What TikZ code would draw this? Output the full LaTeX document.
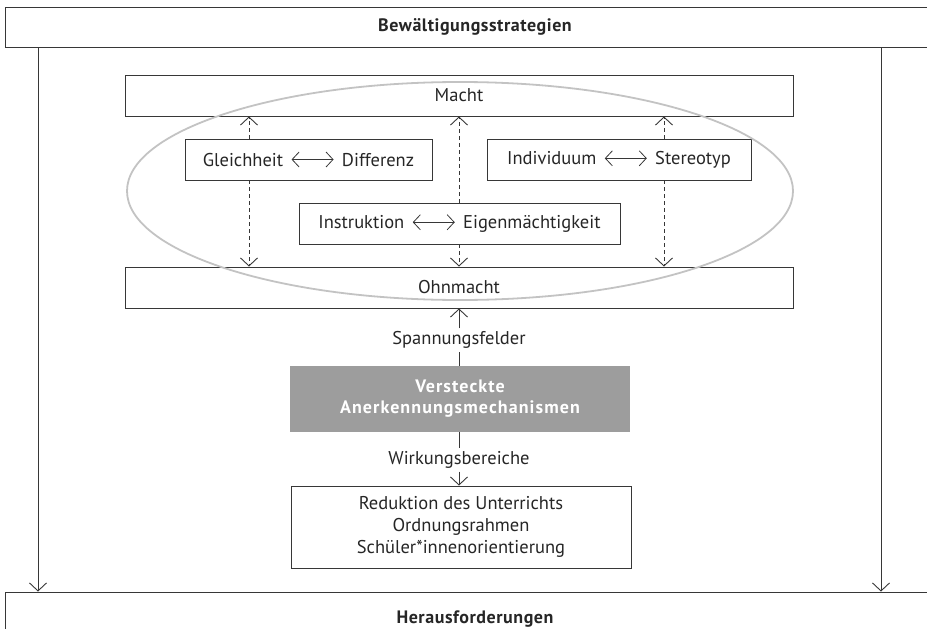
\documentclass[tikz,border=0pt]{standalone}
\usepackage{fontspec}
\setmainfont{PT Sans}
\usepackage{tikz}
\usetikzlibrary{calc,positioning,arrows.meta,shapes.geometric}
\definecolor{ringgray}{RGB}{195,195,195}
\definecolor{boxgray}{RGB}{157,157,157}
\definecolor{linegray}{RGB}{55,55,55}
\newcommand{\twoway}{\hspace{8pt}\tikz[x=1pt,y=1pt,baseline=-6.5pt]\draw[line width=0.8pt,linegray,{Straight Barb[length=7pt,width=15pt]}-{Straight Barb[length=7pt,width=15pt]}] (0,0) -- (42,0);\hspace{8pt}}
\begin{document}
\begin{tikzpicture}[x=1pt,y=-1pt]
\tikzstyle{every node}=[font=\fontsize{18.5}{22}\selectfont, inner sep=0pt, text=black!85]
\tikzstyle{frame}=[draw=linegray, line width=0.9pt, rectangle, align=center]
\tikzstyle{bigfont}=[font=\fontsize{18}{22}\selectfont\bfseries\addfontfeatures{LetterSpace=3}]
\tikzstyle{arr}=[linegray, line width=0.9pt, -{Straight Barb[length=8pt,width=17pt]}]
\tikzstyle{darr}=[arr, dash pattern=on 4pt off 3pt]
\useasboundingbox (0,0) rectangle (927,629);
% outer frame
\node[frame, bigfont, minimum width=940pt, minimum height=40pt] (top) at (475,27) {Bewältigungsstrategien};
\node[frame, bigfont, minimum width=940pt, minimum height=60pt] (bottom) at (475,622) {\raisebox{10pt}{Herausforderungen}};
% field of tension
\node[frame, minimum width=668pt, minimum height=41pt] (macht) at (459,95.5) {Macht};
\node[frame, minimum width=668pt, minimum height=41pt] (ohnmacht) at (459,287.5) {Ohnmacht};
\node[frame, minimum width=247pt, minimum height=41pt] (gleich) at (308.5,159.5) {Gleichheit\twoway Differenz};
\node[frame, minimum width=264pt, minimum height=41pt] (indiv) at (619,159.5) {Individuum\twoway Stereotyp};
\node[frame, minimum width=321pt, minimum height=41pt] (instr) at (459.5,223.5) {Instruktion\twoway Eigenmächtigkeit};
\draw[ringgray, line width=1.8pt] (460,191) ellipse (333pt and 109pt);
\foreach \n/\x in {gleich/249,instr/459,indiv/664}{
  \draw[darr] (\n.north -| \x,0) -- (macht.south -| \x,0);
  \draw[darr] (\n.south -| \x,0) -- (ohnmacht.north -| \x,0);
}
% mechanisms
\node[rectangle, fill=boxgray, minimum width=340pt, minimum height=66pt, align=center, text=white,
      font=\fontsize{18}{21}\selectfont\bfseries\addfontfeatures{LetterSpace=6}] (mech) at (460,399) {Versteckte\\Anerkennungsmechanismen};
\node[inner ysep=3pt] (span) at (459,340) {Spannungsfelder};
\node[inner ysep=3pt] (wirk) at (459,460) {Wirkungsbereiche};
\node[frame, minimum width=340pt, minimum height=82pt] (red) at (461,527) {Reduktion des Unterrichts\\Ordnungsrahmen\\Schüler*innenorientierung};
\draw[linegray, line width=0.9pt] (mech.north -| span) -- (span.south);
\draw[arr] (span.north) -- (ohnmacht.south -| span);
\draw[linegray, line width=0.9pt] (mech.south -| wirk) -- (wirk.north);
\draw[arr] (wirk.south) -- (red.north -| wirk);
% side arrows
\draw[arr] (top.south -| 38,0) -- (bottom.north -| 38,0);
\draw[arr] (top.south -| 881,0) -- (bottom.north -| 881,0);
\end{tikzpicture}
\end{document}
